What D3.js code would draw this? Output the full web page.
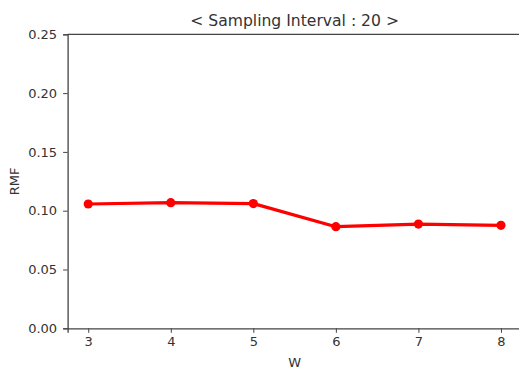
<!DOCTYPE html>
<meta charset="utf-8">
<style>
  body { margin: 0; background: #fff; }
  text { font-family: "DejaVu Sans", sans-serif; fill: #333; }
</style>
<body>
<div id="chart"></div>
<script src="https://d3js.org/d3.v7.min.js"></script>
<script>
    // values
    var wValues = [3, 4, 5, 6, 7, 8];
    var rmfValues = [0.1057, 0.1068, 0.1061, 0.0864, 0.0886, 0.0876];
    var yTicks = [0.00, 0.05, 0.10, 0.15, 0.20, 0.25];
    var title = '< Sampling Interval : 20 >';

    var width = 519, height = 371,
        margin = { top: 34.3, right: -2.6, bottom: 42.7, left: 67.6 };

    var svg = d3.select('#chart').append('svg')
        .attr('width', width)
        .attr('height', height);

    var x = d3.scaleLinear()
        .domain([2.75, 8.25])
        .range([margin.left, width - margin.right]);

    var y = d3.scaleLinear()
        .domain([0, 0.25])
        .range([height - margin.bottom, margin.top]);

    // axes
    var xAxis = svg.append('g')
        .attr('transform', 'translate(0,' + (height - margin.bottom) + ')')
        .call(d3.axisBottom(x).tickValues(wValues).tickFormat(d3.format('d')).tickSize(4.5).tickPadding(3.5));

    var yAxis = svg.append('g')
        .attr('transform', 'translate(' + margin.left + ',0)')
        .call(d3.axisLeft(y).tickValues(yTicks).tickFormat(d3.format('.2f')).tickSize(4.5).tickPadding(6));

    svg.selectAll('.domain').attr('stroke', '#444').attr('stroke-width', 1.3);
    svg.selectAll('.tick line').attr('stroke', '#444').attr('stroke-width', 1);
    svg.selectAll('.tick text').attr('font-size', 13).attr('fill', '#333')
        .style('font-family', '"DejaVu Sans", sans-serif');

    // top spine
    svg.append('line')
        .attr('x1', margin.left).attr('x2', width)
        .attr('y1', y(0.25)).attr('y2', y(0.25))
        .attr('stroke', '#444').attr('stroke-width', 1.3);

    // line + markers
    var line = d3.line()
        .x(function(d, i) { return x(wValues[i]); })
        .y(function(d) { return y(d); });

    svg.append('path')
        .datum(rmfValues)
        .attr('d', line)
        .attr('fill', 'none')
        .attr('stroke', '#ff0000')
        .attr('stroke-width', 3.2)
        .attr('stroke-linejoin', 'round');

    svg.selectAll('circle.pt')
        .data(rmfValues)
        .enter().append('circle')
        .attr('class', 'pt')
        .attr('cx', function(d, i) { return x(wValues[i]); })
        .attr('cy', function(d) { return y(d); })
        .attr('r', 4.6)
        .attr('fill', '#ff0000');

    // labels
    var cx = (margin.left + width - margin.right) / 2;
    svg.append('text')
        .attr('x', cx).attr('y', 25.5)
        .attr('text-anchor', 'middle')
        .attr('font-size', 15.6)
        .text(title);

    svg.append('text')
        .attr('x', cx).attr('y', 366.5)
        .attr('text-anchor', 'middle')
        .attr('font-size', 13)
        .text('W');

    svg.append('text')
        .attr('transform', 'translate(19,' + ((y(0) + y(0.25)) / 2) + ') rotate(-90)')
        .attr('text-anchor', 'middle')
        .attr('font-size', 13)
        .text('RMF');
</script>
</body>
